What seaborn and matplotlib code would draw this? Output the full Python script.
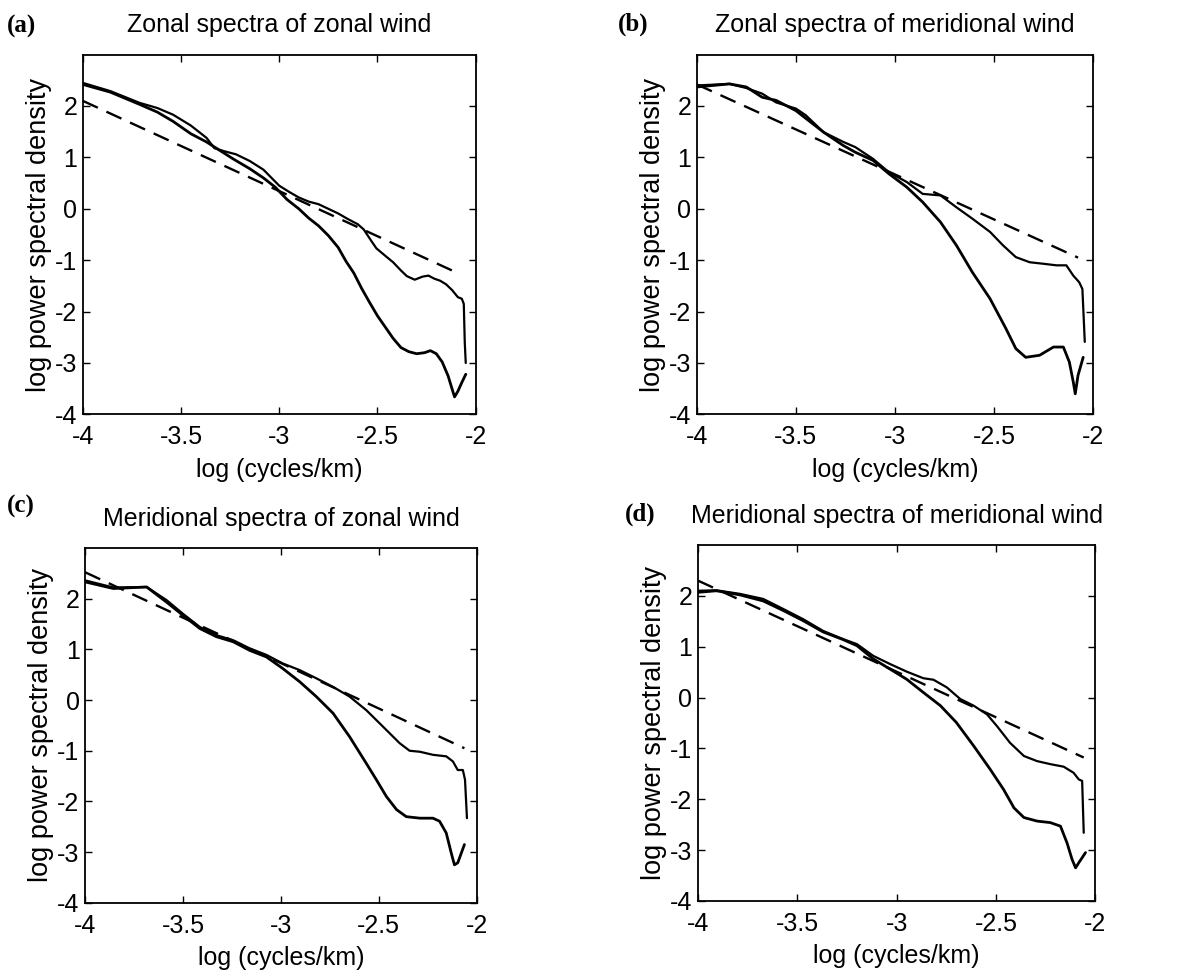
import matplotlib
matplotlib.use("Agg")
import matplotlib.pyplot as plt
import seaborn as sns

# ---- panel (a): zonal spectra of zonal wind ----
a_obs_x = [-4.00, -3.86, -3.71, -3.62, -3.54, -3.45, -3.37, -3.33, -3.28, -3.22, -3.15, -3.08,
           -3.00, -2.95, -2.90, -2.85, -2.80, -2.75, -2.70, -2.65, -2.60, -2.57, -2.53, -2.505,
           -2.455, -2.42, -2.38, -2.35, -2.31, -2.27, -2.24, -2.21, -2.18, -2.15, -2.12, -2.09,
           -2.07, -2.06, -2.055, -2.05]
a_obs_y = [2.45, 2.29, 2.06, 1.96, 1.83, 1.62, 1.38, 1.18, 1.12, 1.06, 0.93, 0.76,
           0.45, 0.33, 0.22, 0.14, 0.09, 0.00, -0.09, -0.20, -0.30, -0.40, -0.63, -0.77,
           -0.93, -1.04, -1.20, -1.31, -1.38, -1.32, -1.30, -1.36, -1.40, -1.47, -1.58, -1.72,
           -1.75, -1.85, -2.60, -3.00]
a_mod_x = [-4.00, -3.86, -3.71, -3.62, -3.54, -3.45, -3.37, -3.30, -3.23, -3.15, -3.08, -3.02,
           -2.96, -2.90, -2.85, -2.80, -2.75, -2.70, -2.66, -2.62, -2.58, -2.54, -2.50, -2.46,
           -2.42, -2.38, -2.34, -2.30, -2.26, -2.23, -2.20, -2.17, -2.14, -2.12, -2.107, -2.09,
           -2.07, -2.05]
a_mod_y = [2.42, 2.27, 2.03, 1.88, 1.70, 1.46, 1.30, 1.13, 0.96, 0.78, 0.60, 0.42,
           0.18, 0.00, -0.18, -0.33, -0.52, -0.75, -1.02, -1.25, -1.55, -1.82, -2.08, -2.30,
           -2.52, -2.70, -2.78, -2.82, -2.80, -2.76, -2.82, -2.98, -3.25, -3.50, -3.66, -3.55,
           -3.38, -3.22]
a_ref_x = [-4.00, -2.08]
a_ref_y = [2.10, -1.27]

# ---- panel (b): zonal spectra of meridional wind ----
b_obs_x = [-4.00, -3.835, -3.75, -3.67, -3.60, -3.50, -3.45, -3.36, -3.26, -3.20, -3.11, -3.03,
           -2.94, -2.86, -2.77, -2.69, -2.61, -2.52, -2.455, -2.39, -2.32, -2.25, -2.185, -2.135,
           -2.10, -2.07, -2.054, -2.042]
b_obs_y = [2.40, 2.43, 2.35, 2.24, 2.07, 1.95, 1.82, 1.49, 1.30, 1.20, 0.97, 0.71,
           0.52, 0.29, 0.26, 0.03, -0.19, -0.45, -0.71, -0.94, -1.04, -1.07, -1.10, -1.10,
           -1.30, -1.43, -1.56, -2.59]
b_mod_x = [-4.00, -3.835, -3.75, -3.67, -3.60, -3.50, -3.36, -3.26, -3.20, -3.11, -3.03, -2.94,
           -2.86, -2.77, -2.69, -2.61, -2.52, -2.44, -2.39, -2.34, -2.27, -2.20, -2.15, -2.12,
           -2.10, -2.09, -2.076, -2.05]
b_mod_y = [2.37, 2.43, 2.37, 2.17, 2.11, 1.91, 1.49, 1.23, 1.10, 0.94, 0.68, 0.42,
           0.13, -0.26, -0.71, -1.23, -1.75, -2.33, -2.72, -2.89, -2.85, -2.69, -2.69, -2.98,
           -3.37, -3.60, -3.24, -2.89]
b_ref_x = [-4.00, -2.076]
b_ref_y = [2.42, -0.95]

# ---- panel (c): meridional spectra of zonal wind ----
c_obs_x = [-4.00, -3.856, -3.686, -3.584, -3.50, -3.414, -3.33, -3.244, -3.16, -3.074, -2.99, -2.904,
           -2.82, -2.734, -2.65, -2.564, -2.48, -2.394, -2.343, -2.29, -2.224, -2.156, -2.122, -2.097,
           -2.071, -2.06, -2.05]
c_obs_y = [2.36, 2.22, 2.23, 1.97, 1.70, 1.44, 1.28, 1.18, 1.02, 0.89, 0.72, 0.59,
           0.43, 0.26, 0.07, -0.20, -0.52, -0.85, -1.00, -1.02, -1.08, -1.11, -1.21, -1.38,
           -1.38, -1.57, -2.33]
c_mod_x = [-4.00, -3.856, -3.686, -3.584, -3.50, -3.414, -3.33, -3.244, -3.16, -3.074, -2.99, -2.904,
           -2.82, -2.734, -2.65, -2.564, -2.513, -2.462, -2.41, -2.36, -2.29, -2.224, -2.19, -2.156,
           -2.13, -2.114, -2.097, -2.063]
c_mod_y = [2.33, 2.20, 2.23, 1.93, 1.67, 1.41, 1.25, 1.15, 0.98, 0.85, 0.62, 0.36,
           0.07, -0.26, -0.72, -1.25, -1.57, -1.90, -2.16, -2.30, -2.33, -2.33, -2.39, -2.62,
           -3.02, -3.25, -3.21, -2.85]
c_ref_x = [-4.00, -2.063]
c_ref_y = [2.52, -0.95]

# ---- panel (d): meridional spectra of meridional wind ----
d_obs_x = [-4.00, -3.908, -3.79, -3.672, -3.57, -3.47, -3.37, -3.27, -3.20, -3.118, -3.034, -2.95,
           -2.866, -2.815, -2.748, -2.68, -2.613, -2.546, -2.496, -2.43, -2.36, -2.294, -2.227, -2.16,
           -2.11, -2.084, -2.067, -2.059]
d_obs_y = [2.10, 2.11, 2.04, 1.94, 1.74, 1.54, 1.31, 1.15, 1.05, 0.82, 0.66, 0.51,
           0.38, 0.35, 0.20, -0.03, -0.16, -0.33, -0.56, -0.89, -1.15, -1.25, -1.31, -1.36,
           -1.48, -1.61, -1.64, -2.66]
d_mod_x = [-4.00, -3.908, -3.79, -3.672, -3.57, -3.47, -3.37, -3.27, -3.20, -3.118, -3.034, -2.95,
           -2.866, -2.78, -2.70, -2.613, -2.53, -2.462, -2.41, -2.36, -2.294, -2.227, -2.176, -2.143,
           -2.118, -2.10, -2.084, -2.05]
d_mod_y = [2.07, 2.10, 2.02, 1.90, 1.71, 1.51, 1.29, 1.14, 1.02, 0.76, 0.56, 0.36,
           0.10, -0.16, -0.49, -0.95, -1.41, -1.81, -2.17, -2.36, -2.43, -2.46, -2.53, -2.86,
           -3.18, -3.35, -3.25, -3.05]
d_ref_x = [-4.00, -2.059]
d_ref_y = [2.30, -1.18]

panel_letters = ["(a)", "(b)", "(c)", "(d)"]
panel_titles = ["Zonal spectra of zonal wind",
                "Zonal spectra of meridional wind",
                "Meridional spectra of zonal wind",
                "Meridional spectra of meridional wind"]
x_ticks = [-4, -3.5, -3, -2.5, -2]
x_tick_labels = ["-4", "-3.5", "-3", "-2.5", "-2"]
y_ticks = [-4, -3, -2, -1, 0, 1, 2]
x_label = "log (cycles/km)"
y_label = "log power spectral density"

panels = [
    (a_obs_x, a_obs_y, a_mod_x, a_mod_y, a_ref_x, a_ref_y),
    (b_obs_x, b_obs_y, b_mod_x, b_mod_y, b_ref_x, b_ref_y),
    (c_obs_x, c_obs_y, c_mod_x, c_mod_y, c_ref_x, c_ref_y),
    (d_obs_x, d_obs_y, d_mod_x, d_mod_y, d_ref_x, d_ref_y),
]

sns.set_style("ticks")
plt.rcParams["font.family"] = ["Liberation Sans", "DejaVu Sans"]
plt.rcParams["axes.unicode_minus"] = False
plt.rcParams["text.color"] = "black"
plt.rcParams["axes.labelcolor"] = "black"
plt.rcParams["xtick.color"] = "black"
plt.rcParams["ytick.color"] = "black"

fig = plt.figure(figsize=(11.83, 9.75), dpi=100)
axes_boxes = [
    [0.070, 0.575, 0.332, 0.369],
    [0.589, 0.575, 0.335, 0.369],
    [0.072, 0.074, 0.331, 0.364],
    [0.590, 0.076, 0.336, 0.365],
]
letter_pos = [(0.006, 0.967), (0.522, 0.969), (0.006, 0.474), (0.528, 0.466)]

for i, (ox, oy, mx, my, rx, ry) in enumerate(panels):
    ax = fig.add_axes(axes_boxes[i])
    sns.lineplot(x=ox, y=oy, ax=ax, color="black", linewidth=1.6,
                 estimator=None, sort=False)
    sns.lineplot(x=mx, y=my, ax=ax, color="black", linewidth=2.0,
                 estimator=None, sort=False)
    sns.lineplot(x=rx, y=ry, ax=ax, color="black", linewidth=1.7,
                 linestyle=(0, (7, 4)), estimator=None, sort=False)

    ax.set_xlim(-4, -2)
    ax.set_ylim(-4, 3)
    ax.set_xticks(x_ticks)
    ax.set_xticklabels(x_tick_labels)
    ax.set_yticks(y_ticks)
    ax.tick_params(direction="in", top=True, right=True, length=5, width=1,
                   labelsize=18, colors="black")
    ax.tick_params(axis="x", pad=8)
    ax.tick_params(axis="y", pad=4)
    for sp in ax.spines.values():
        sp.set_visible(True)
        sp.set_linewidth(1.3)
        sp.set_color("black")

    ax.set_title(panel_titles[i], fontsize=18, pad=16, color="black")
    ax.set_xlabel(x_label, fontsize=18, labelpad=6)
    ax.set_ylabel(y_label, fontsize=19.5, labelpad=2)

    fig.text(letter_pos[i][0], letter_pos[i][1], panel_letters[i],
             fontsize=18, fontweight="bold", family="Liberation Serif",
             ha="left", va="baseline", color="black")

fig.savefig("out.png", dpi=100, facecolor="white")
